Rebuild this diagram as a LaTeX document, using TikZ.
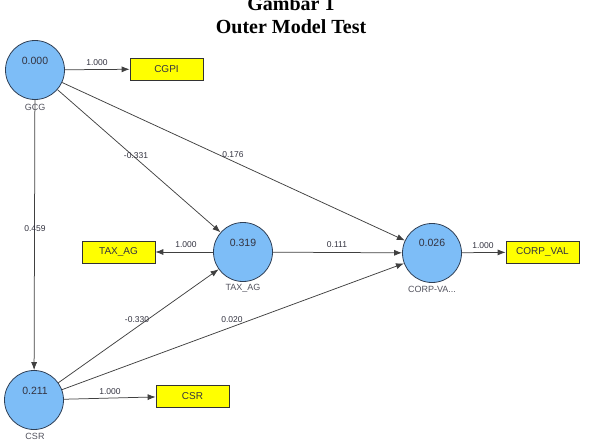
\documentclass[tikz,border=0pt]{standalone}
\usepackage{fontspec}
\setmainfont{Liberation Serif}
\newfontfamily\diag{Liberation Sans}
\usetikzlibrary{arrows.meta}
\definecolor{lvblue}{HTML}{7DBDF7}
\definecolor{lvedge}{HTML}{2F3F55}
\definecolor{mvyellow}{HTML}{FFFF00}
\definecolor{txt}{HTML}{333340}
\tikzset{
  lv/.style={circle, draw=lvedge, line width=0.8pt, fill=lvblue, minimum size=59pt, inner sep=0pt},
  mv/.style={rectangle, draw=black!80, line width=0.7pt, fill=mvyellow, minimum width=73pt, minimum height=22pt, inner sep=0pt, font=\diag\fontsize{10}{11}\selectfont, text=txt},
  val/.style={font=\diag\fontsize{10.5}{12}\selectfont, text=txt},
  nm/.style={font=\diag\fontsize{9}{10}\selectfont, text=txt!85},
  lbl/.style={font=\diag\fontsize{8.5}{10}\selectfont, text=txt},
  conn/.style={draw=black!75, line width=0.75pt, -{Latex[length=8pt,width=6pt]}},
  ttl/.style={font=\bfseries\fontsize{20}{22}\selectfont}
}
\begin{document}
\begin{tikzpicture}[x=1pt,y=-1pt]
\useasboundingbox (0,0) rectangle (597,444);
\node[ttl] (t1) at (291,4) {Gambar 1};
\node[ttl] (t2) at (291,27) {Outer Model Test};
% latent variables
\node[lv] (gcg) at (35,70) {};
\node[lv] (tax) at (243,252) {};
\node[lv] (corp) at (432,253) {};
\node[lv] (csr) at (34,400) {};
\node[val] at (35,61) {0.000};
\node[val] at (243,243) {0.319};
\node[val] at (432,243) {0.026};
\node[val] at (35,391) {0.211};
\node[nm] at (35,107) {GCG};
\node[nm] at (243,288) {TAX\_AG};
\node[nm] at (432,289) {CORP-VA...};
\node[nm] at (35,436) {CSR};
% manifest variables
\node[mv] (cgpi) at (166.5,69) {CGPI};
\node[mv] (taxb) at (118.5,252) {TAX\_AG};
\node[mv] (corpb) at (542.5,252) {CORP\_VAL};
\node[mv] (csrb) at (192.5,396) {CSR};
% connectors
\draw[conn] (gcg) -- (cgpi);
\draw[conn] (tax) -- (taxb);
\draw[conn] (corp) -- (corpb);
\draw[conn] (csr) -- (csrb);
\draw[conn] (gcg) -- (tax);
\draw[conn] (gcg) -- (corp);
\draw[conn] (gcg) -- (csr);
\draw[conn] (tax) -- (corp);
\draw[conn] (csr) -- (tax);
\draw[conn] (csr) -- (corp);
% labels
\node[lbl] at (97,63) {1.000};
\node[lbl] at (186,245) {1.000};
\node[lbl] at (483,246) {1.000};
\node[lbl] at (110,392) {1.000};
\node[lbl] at (136,156) {-0.331};
\node[lbl] at (233,155) {0.176};
\node[lbl] at (35,229) {0.459};
\node[lbl] at (337,245) {0.111};
\node[lbl] at (137,320) {-0.330};
\node[lbl] at (232,320) {0.020};
\end{tikzpicture}
\end{document}
